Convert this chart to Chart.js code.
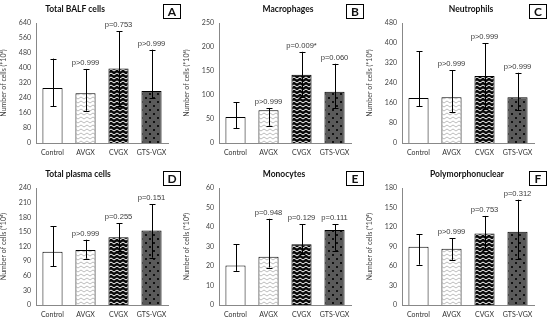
<!DOCTYPE html>
<html><head><meta charset="utf-8">
<script src="https://cdn.jsdelivr.net/npm/chart.js@4"></script>
<style>
html,body{margin:0;padding:0;background:#fff;}
#wrap{position:relative;width:550px;height:322px;overflow:hidden;}
canvas{position:absolute;}
</style></head>
<body><div id="wrap"></div>
<script>
const categories = ['Control','AVGX','CVGX','GTS-VGX'];
const panelTitles = ['Total BALF cells','Macrophages','Neutrophils','Total plasma cells','Monocytes','Polymorphonuclear'];
const panelLetters = ['A','B','C','D','E','F'];
const yAxisTitle = 'Number of cells (*10⁴)';
const yMax = [640, 250, 480, 240, 60, 180];
const yStep = [80, 50, 80, 30, 10, 30];

const balfMean = [293, 265, 398, 277];
const balfHigh = [450, 395, 596, 498];
const balfLow  = [196, 172, 200, 240];
const balfP    = ['', 'p>0.999', 'p=0.753', 'p>0.999'];

const macroMean = [54, 68, 142, 107];
const macroHigh = [85, 73, 190, 165];
const macroLow  = [31, 36, 95, 73];
const macroP    = ['', 'p>0.999', 'p=0.009*', 'p=0.060'];

const neutroMean = [180, 183, 268, 183];
const neutroHigh = [367, 291, 399, 281];
const neutroLow  = [147, 124, 137, 132];
const neutroP    = ['', 'p>0.999', 'p>0.999', 'p>0.999'];

const plasmaMean = [109, 113, 139, 153];
const plasmaHigh = [162, 134, 168, 207];
const plasmaLow  = [80, 95, 110, 97];
const plasmaP    = ['', 'p>0.999', 'p=0.255', 'p=0.151'];

const monoMean = [20.2, 24.7, 31.2, 38.4];
const monoHigh = [31.2, 44.2, 41.3, 41.3];
const monoLow  = [17.5, 19.2, 26, 27.8];
const monoP    = ['', 'p=0.948', 'p=0.129', 'p=0.111'];

const pmnMean = [89.5, 86.4, 110, 112.6];
const pmnHigh = [109, 103, 137, 162];
const pmnLow  = [62, 69.4, 85, 70.5];
const pmnP    = ['', 'p>0.999', 'p=0.753', 'p=0.312'];

const panelMeans = [balfMean, macroMean, neutroMean, plasmaMean, monoMean, pmnMean];
const panelHighs = [balfHigh, macroHigh, neutroHigh, plasmaHigh, monoHigh, pmnHigh];
const panelLows  = [balfLow, macroLow, neutroLow, plasmaLow, monoLow, pmnLow];
const panelPs    = [balfP, macroP, neutroP, plasmaP, monoP, pmnP];

function zigzag(bg, fg){
  const c = document.createElement('canvas'); c.width = 6; c.height = 4;
  const x = c.getContext('2d');
  x.fillStyle = bg; x.fillRect(0,0,6,4);
  x.strokeStyle = fg; x.lineWidth = 1;
  x.beginPath(); x.moveTo(0,3); x.lineTo(3,1); x.lineTo(6,3); x.stroke();
  return x.createPattern(c,'repeat');
}
function dots(){
  const c = document.createElement('canvas'); c.width = 8; c.height = 8;
  const x = c.getContext('2d');
  x.fillStyle = '#5a5a5a'; x.fillRect(0,0,8,8);
  x.fillStyle = '#111';
  x.fillRect(1,1,2,2); x.fillRect(5,5,2,2);
  return x.createPattern(c,'repeat');
}
const fills = [ '#ffffff', zigzag('#ffffff','#bdbdbd'), zigzag('#0a0a0a','#ffffff'), dots() ];

const FONT = 'Lato, "DejaVu Sans", sans-serif';

const extras = {
  id: 'extras',
  afterDatasetsDraw(chart, args, opts){
    const ctx = chart.ctx;
    const meta = chart.getDatasetMeta(0);
    const ys = chart.scales.y;
    ctx.save();
    ctx.strokeStyle = '#000'; ctx.lineWidth = 1;
    meta.data.forEach((bar, i) => {
      const x = Math.round(bar.x) + 0.5;
      const yh = ys.getPixelForValue(opts.high[i]);
      const yl = ys.getPixelForValue(opts.low[i]);
      ctx.beginPath();
      ctx.moveTo(x, yh); ctx.lineTo(x, yl);
      ctx.moveTo(x-3, Math.round(yh)+0.5); ctx.lineTo(x+3, Math.round(yh)+0.5);
      ctx.moveTo(x-3, Math.round(yl)+0.5); ctx.lineTo(x+3, Math.round(yl)+0.5);
      ctx.stroke();
      if (opts.p[i]) {
        ctx.fillStyle = '#3a3a3a';
        ctx.font = '7.6px "Liberation Sans", Arial, sans-serif';
        ctx.textAlign = 'center'; ctx.textBaseline = 'alphabetic';
        ctx.fillText(opts.p[i], bar.x, yh - 4);
      }
    });
    ctx.fillStyle = '#111';
    ctx.font = 'bold 8.5px ' + FONT;
    ctx.textAlign = 'center'; ctx.textBaseline = 'middle';
    ctx.fillText(opts.title, opts.titleX, opts.titleY);
    ctx.strokeStyle = '#000'; ctx.lineWidth = 1;
    ctx.strokeRect(163.5, opts.boxY + 0.5, 17, 14);
    ctx.font = 'bold 12px ' + FONT;
    ctx.fillText(opts.letter, 172, opts.boxY + 8);
    ctx.restore();
  }
};

const wrap = document.getElementById('wrap');
for (let k = 0; k < 6; k++) {
  const col = k % 3, row = Math.floor(k / 3);
  const cv = document.createElement('canvas');
  const W = 183, H = 161;
  cv.width = W; cv.height = H;
  cv.style.left = (col * 183) + 'px';
  cv.style.top = (row * 161) + 'px';
  cv.style.width = W + 'px'; cv.style.height = H + 'px';
  wrap.appendChild(cv);
  const topPad = row === 0 ? 23 : 27;
  const bottomH = row === 0 ? 18 : 17;
  new Chart(cv, {
    type: 'bar',
    data: {
      labels: categories,
      datasets: [{
        data: panelMeans[k],
        backgroundColor: fills,
        borderColor: '#000',
        borderWidth: 1,
        barPercentage: 0.61,
        categoryPercentage: 1
      }]
    },
    options: {
      responsive: false, animation: false, devicePixelRatio: 1,
      layout: { padding: { top: topPad, right: 15, left: 0, bottom: 0 } },
      plugins: {
        legend: { display: false }, tooltip: { enabled: false },
        extras: {
          high: panelHighs[k], low: panelLows[k], p: panelPs[k],
          title: panelTitles[k], letter: panelLetters[k],
          titleX: row === 0 ? (col === 0 ? 75 : 105) : (col === 0 ? 78 : 101),
          titleY: row === 0 ? 9 : 13,
          boxY: row === 0 ? 4 : 10
        }
      },
      scales: {
        x: {
          grid: { display: false, drawTicks: false },
          border: { color: '#888', width: 1 },
          ticks: { color: '#333', font: { size: 7, family: FONT }, padding: 6, maxRotation: 0 },
          afterFit: s => { s.height = bottomH; }
        },
        y: {
          min: 0, max: yMax[k],
          grid: { display: false, drawTicks: false },
          border: { color: '#888', width: 1 },
          ticks: { stepSize: yStep[k], color: '#444', font: { size: 7, family: FONT }, padding: 5 },
          title: { display: true, text: yAxisTitle, color: '#444', font: { size: 7, family: FONT }, padding: 0 },
          afterFit: s => { s.width = 36; }
        }
      }
    },
    plugins: [extras]
  });
}
</script></body></html>
